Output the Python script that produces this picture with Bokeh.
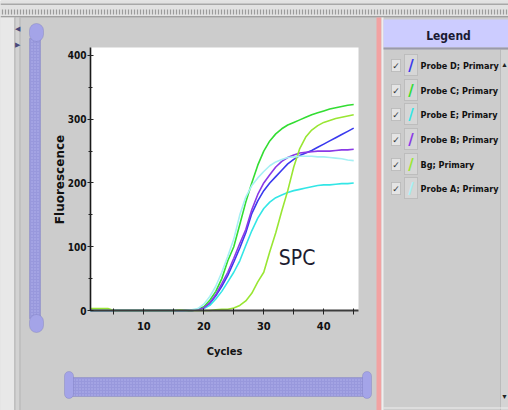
import math
from bokeh.plotting import figure
from bokeh.models import Range1d, FixedTicker, BoxAnnotation, Label
from bokeh.embed import file_html
from bokeh.resources import INLINE

# ---------------- data ----------------
cycles = list(range(1, 46))

probe_d = [0]*18 + [1, 4, 11, 23, 38, 55, 76, 98, 122, 152, 172, 188, 200, 210, 220,
                    230, 237, 243, 247, 251, 256, 261, 266, 271, 276, 281, 286]
probe_c = [0]*18 + [2, 6, 16, 30, 50, 78, 100, 135, 170, 200, 228, 250, 266, 277, 285,
                    291, 295, 299, 303, 307, 310, 313, 316, 318, 320, 322, 323]
probe_e = [0]*18 + [1, 3, 8, 18, 30, 45, 60, 78, 102, 125, 145, 160, 170, 177, 181,
                    185, 188, 190, 192, 194, 196, 197, 197, 198, 199, 199, 200]
probe_b = [0]*18 + [1, 4, 12, 25, 42, 60, 82, 105, 127, 158, 182, 200, 213, 225, 234,
                    240, 244, 247, 248, 249, 250, 250, 250, 251, 252, 252, 253]
bg = [3, 3, 3, 3] + [0]*11 + [1, 0, 0, 0, 0, 0, 1, 2, 2, 4, 8, 15, 27, 45, 60, 92, 122,
                              156, 188, 225, 254, 272, 283, 290, 295, 298, 301, 303, 305, 307]
probe_a = [0]*17 + [1, 3, 10, 22, 38, 60, 85, 112, 150, 178, 196, 208, 218, 227, 233,
                    237, 240, 241, 242, 242, 242, 241, 241, 240, 239, 238, 236, 235]

series_names = ["Probe D; Primary", "Probe C; Primary", "Probe E; Primary",
                "Probe B; Primary", "Bg; Primary", "Probe A; Primary"]
series_values = [probe_d, probe_c, probe_e, probe_b, bg, probe_a]
series_colors = ["#3a3aee", "#33dd33", "#33e6e6", "#8a3ae6", "#99e633", "#a6f0f4"]

x_ticks = [10, 20, 30, 40]
x_minor_ticks = [5, 15, 25, 35, 45]
y_ticks = [0, 100, 200, 300, 400]
y_minor_ticks = [50, 150, 250, 350]
x_span = (1.1, 45.8)      # plotted cycle range
y_span = (0, 412.5)       # plotted fluorescence range

NARROW = "DejaVu Sans Condensed"

# ---------------- layout of the window (pixels) ----------------
W, H = 508, 410
PL, PR, PT, PB = 90, 358, 47, 310           # chart area inside the window
kx = (PR - PL) / (x_span[1] - x_span[0])
ky = (PB - PT) / (y_span[1] - y_span[0])

p = figure(width=W, height=H, output_backend="svg", toolbar_location=None,
           x_range=Range1d(x_span[0] - PL / kx, x_span[1] + (W - PR) / kx),
           y_range=Range1d(y_span[0] - (H - PB) / ky, y_span[1] + PT / ky),
           min_border=0)
p.background_fill_color = "#cccccc"
p.border_fill_color = "#cccccc"
p.outline_line_color = None
p.grid.visible = False

# white chart background
p.add_layout(BoxAnnotation(left=x_span[0], right=x_span[1], bottom=y_span[0],
                           top=y_span[1], fill_color="white", fill_alpha=1,
                           line_color=None, level="underlay"))

for vals, col in zip(series_values, series_colors):
    p.line(cycles, vals, line_color=col, line_width=1.6)

p.xaxis.fixed_location = y_span[0]
p.yaxis.fixed_location = x_span[0]
p.xaxis.bounds = x_span
p.yaxis.bounds = y_span
p.xaxis.ticker = FixedTicker(ticks=x_ticks, minor_ticks=x_minor_ticks)
p.yaxis.ticker = FixedTicker(ticks=y_ticks, minor_ticks=y_minor_ticks)
for ax in (p.xaxis, p.yaxis):
    ax.major_tick_line_color = "#222222"
    ax.minor_tick_line_color = "#222222"
    ax.major_label_text_font = NARROW
    ax.major_label_text_font_style = "bold"
    ax.major_label_text_color = "#111111"
p.xaxis.axis_line_color = "#3c3c3c"
p.xaxis.axis_line_width = 2
p.yaxis.axis_line_color = "#1a1a1a"
p.yaxis.axis_line_width = 1.6
p.xaxis.major_label_text_font_size = "11px"
p.yaxis.major_label_text_font_size = "10px"
p.xaxis.major_tick_in = 2
p.xaxis.major_tick_out = 4
p.xaxis.minor_tick_in = 2
p.xaxis.minor_tick_out = 4
p.xaxis.major_label_standoff = 7
p.yaxis.major_tick_in = 3
p.yaxis.major_tick_out = 3
p.yaxis.minor_tick_in = 2
p.yaxis.minor_tick_out = 2
p.yaxis.major_label_standoff = 1

p.add_layout(Label(x=32.5, y=83, text="SPC", text_font=NARROW,
                   text_font_size="21px", text_color="#1c1c30",
                   text_baseline="alphabetic", text_align="left"))


# ---------------- window chrome (window px -> screen units, y up) ----------------
def box(x0, x1, y0, y1, fill, line=None, **kw):
    p.add_layout(BoxAnnotation(left=x0, right=x1, top=H - y0, bottom=H - y1,
                               left_units="screen", right_units="screen",
                               top_units="screen", bottom_units="screen",
                               fill_color=fill, fill_alpha=1.0,
                               line_color=line, line_width=1, **kw))


def label(x, y, text, **kw):
    p.add_layout(Label(x=x, y=H - y, x_units="screen", y_units="screen",
                       text=text, **kw))


# axis titles
label(224, 351, "Cycles", text_font=NARROW, text_font_style="bold",
      text_font_size="11px", text_color="#111111", text_align="center",
      text_baseline="middle")
label(59, 179, "Fluorescence", angle=math.pi / 2, text_font="DejaVu Sans",
      text_font_style="bold", text_font_size="12px", text_color="#111111",
      text_align="center", text_baseline="middle")

# top band
box(0, 508, 0, 17, "#e2e2e2")
box(0, 508, 3, 4.5, "#a8a8a8")
box(0, 508, 9, 14, "#dadada", hatch_pattern="vertical_line", hatch_scale=3,
    hatch_color="#9c9c9c", hatch_weight=1)
box(0, 508, 15.5, 17, "#a0a0a0")
# left strip
box(0, 14, 17, 410, "#e8e8e8")
box(14, 15, 17, 410, "#a4a4a4")
box(15, 19, 17, 410, "#d2d2d2")
box(19, 20, 17, 410, "#b4b4b4")
label(17, 28, "\u25c0", text_font_size="7px", text_color="#4a4a7a",
      text_align="center", text_baseline="middle")
label(17, 44, "\u25b6", text_font_size="7px", text_color="#4a4a7a",
      text_align="center", text_baseline="middle")

# vertical slider
box(29, 40, 38, 318, "#9898dc", "#6e6eae", hatch_pattern="dot", hatch_scale=3,
    hatch_color="#b4b4ee", hatch_weight=1)
box(29, 43, 23, 41, "#a4a4e8", "#6e6eae", border_radius=7)
box(29, 43, 314, 332, "#a4a4e8", "#6e6eae", border_radius=7)

# horizontal slider
box(72, 365, 377, 396, "#9898dc", "#6e6eae", hatch_pattern="dot", hatch_scale=3,
    hatch_color="#b4b4ee", hatch_weight=1)
box(64, 73, 371, 398, "#a4a4e8", "#6e6eae", border_radius=5)
box(362, 371, 371, 398, "#a4a4e8", "#6e6eae", border_radius=5)

# legend panel
box(376, 381, 17, 410, "#f2a2a2")
box(381, 383, 17, 410, "#eeeeee")
box(383, 508, 19, 47, "#ccccff")
box(383, 508, 47, 49, "#9a9aaa")
box(500, 508, 49, 410, "#d4d4d4", "#8c8c8c")
label(504, 64, "\u25b2", text_font_size="7px", text_color="#222222",
      text_align="center", text_baseline="middle")
label(504, 396, "\u25bc", text_font_size="7px", text_color="#222222",
      text_align="center", text_baseline="middle")
box(383, 508, 407, 408, "#eeeeee")
label(448, 35, "Legend", text_font=NARROW, text_font_style="bold",
      text_font_size="12px", text_color="#1a1a33", text_align="center",
      text_baseline="middle")

row_y = [65, 90, 114, 139, 164, 188]
for yc, name, col in zip(row_y, series_names, series_colors):
    box(391, 400, yc - 6, yc + 6, "#e4e4e4", "#808080")
    label(395.5, yc, "\u2713", text_font="DejaVu Sans", text_font_size="9px",
          text_font_style="bold", text_color="#333333", text_align="center",
          text_baseline="middle")
    box(404, 417, yc - 11, yc + 10, "#d6d6d6", "#909090")
    label(410.5, yc, "/", text_font="DejaVu Sans", text_font_size="15px",
          text_font_style="bold", text_color=col, text_align="center",
          text_baseline="middle")
    label(420, yc, name, text_font=NARROW, text_font_style="bold",
          text_font_size="9px", text_color="#111111", text_align="left",
          text_baseline="middle")

open("out.html", "w").write(file_html(p, INLINE))
